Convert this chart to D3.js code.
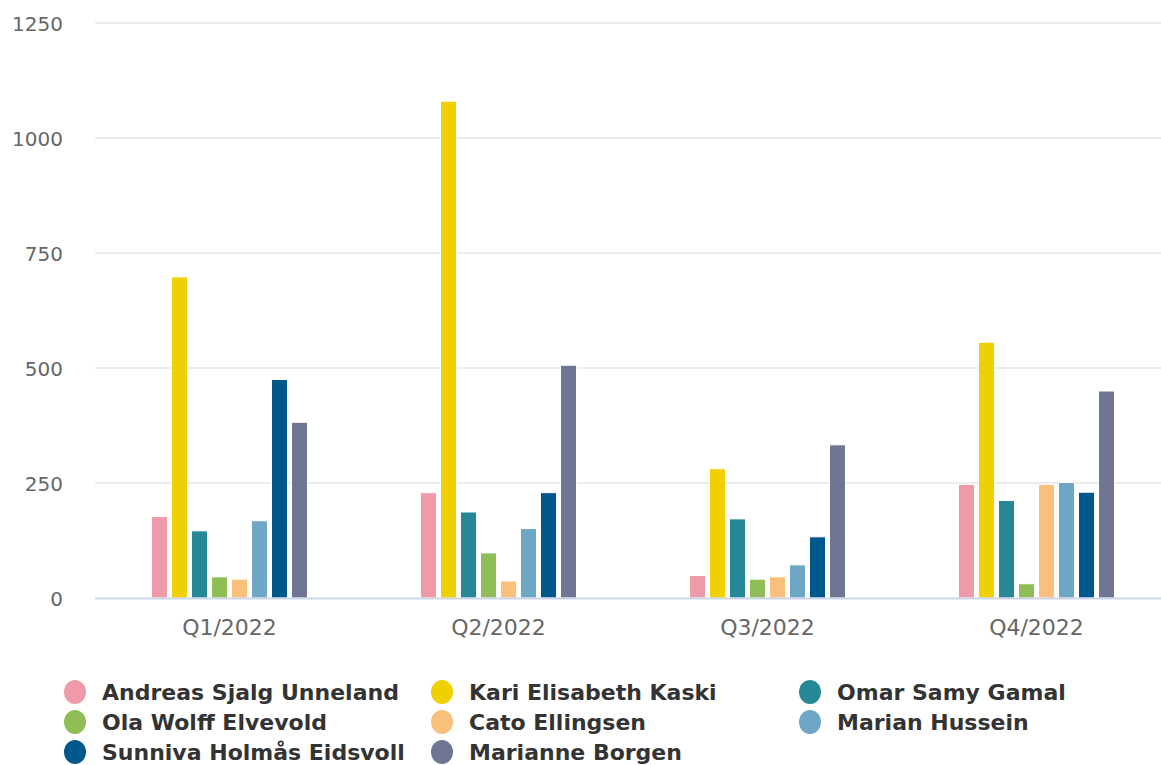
<!DOCTYPE html>
<html>
<head>
<meta charset="utf-8">
<script src="https://cdn.jsdelivr.net/npm/d3@7"></script>
<style>
html,body{margin:0;padding:0;background:#fff;}
svg{display:block;}
</style>
</head>
<body>
<svg id="chart" width="1161" height="765"></svg>
<script>
const categories = ["Q1/2022", "Q2/2022", "Q3/2022", "Q4/2022"];
const seriesNames = ["Andreas Sjalg Unneland", "Kari Elisabeth Kaski", "Omar Samy Gamal", "Ola Wolff Elvevold", "Cato Ellingsen", "Marian Hussein", "Sunniva Holmås Eidsvoll", "Marianne Borgen"];
const seriesColors = ["#ef9aa8", "#f0d000", "#268897", "#8fbd56", "#f9c07c", "#6ea6c6", "#005789", "#707594"];
const andreas = [177, 229, 49, 247];
const kari = [698, 1080, 281, 556];
const omar = [146, 187, 172, 212];
const ola = [46, 98, 41, 31];
const cato = [41, 37, 46, 247];
const marian = [168, 151, 72, 251];
const sunniva = [475, 229, 133, 230];
const marianne = [382, 506, 333, 450];
const seriesValues = [andreas, kari, omar, ola, cato, marian, sunniva, marianne];
const yTicks = [0, 250, 500, 750, 1000, 1250];

const svg = d3.select("#chart");
const plotLeft = 95, plotRight = 1171, plotTop = 23, plotBottom = 598;

const x0 = d3.scaleBand().domain(categories).range([plotLeft, plotRight]).padding(0);
const half = 80;
const x1 = d3.scaleBand().domain(seriesNames)
  .range([x0.bandwidth()/2 - half, x0.bandwidth()/2 + half])
  .paddingInner(0.2).paddingOuter(0.1);
const y = d3.scaleLinear().domain([0, 1250]).range([plotBottom, plotTop]);

// gridlines
svg.append("g").selectAll("line").data(yTicks.filter(d => d > 0)).join("line")
  .attr("x1", plotLeft).attr("x2", 1161)
  .attr("y1", d => y(d)).attr("y2", d => y(d))
  .attr("stroke", "#e6e6e6").attr("stroke-width", 1.5);

// y axis labels
const yAxis = d3.axisLeft(y).tickValues(yTicks).tickFormat(d3.format("d")).tickSize(0).tickPadding(0);
const yg = svg.append("g").attr("transform", `translate(63,0)`).call(yAxis);
yg.select(".domain").remove();
yg.selectAll("text").attr("font-family", "DejaVu Sans").attr("font-size", 20).attr("fill", "#666666").attr("dy", "0.35em");

// bars
const groups = svg.append("g").selectAll("g").data(categories).join("g")
  .attr("transform", d => `translate(${x0(d)},0)`);
groups.selectAll("rect").data((c, ci) => seriesNames.map((s, si) => ({s, si, v: seriesValues[si][ci]}))).join("rect")
  .attr("x", d => x1(d.s))
  .attr("width", x1.bandwidth())
  .attr("y", d => y(d.v))
  .attr("height", d => y(0) - y(d.v))
  .attr("fill", d => seriesColors[d.si])
  .attr("stroke", "#ffffff").attr("stroke-width", 1);

// baseline
svg.append("line").attr("x1", plotLeft).attr("x2", 1161).attr("y1", plotBottom + 0.5).attr("y2", plotBottom + 0.5)
  .attr("stroke", "#ccd6eb").attr("stroke-width", 2);

// x axis labels
const xAxis = d3.axisBottom(x0).tickSize(0).tickPadding(0);
const xg = svg.append("g").attr("transform", `translate(0,${plotBottom})`).call(xAxis);
xg.select(".domain").remove();
xg.selectAll("text").attr("font-family", "DejaVu Sans").attr("font-size", 22).attr("fill", "#666666")
  .attr("dy", null).attr("y", 37);

// legend
const colX = [75, 442, 810];
const rowY = [692, 722, 752];
const leg = svg.append("g").selectAll("g").data(seriesNames).join("g")
  .attr("transform", (d, i) => `translate(${colX[i % 3]},${rowY[Math.floor(i / 3)]})`);
leg.append("ellipse").attr("rx", 11).attr("ry", 12).attr("fill", (d, i) => seriesColors[i]);
leg.append("text").attr("x", 27).attr("dy", "0.36em")
  .attr("font-family", "DejaVu Sans").attr("font-weight", "bold").attr("font-size", 22)
  .attr("fill", "#333333").text(d => d);
</script>
</body>
</html>
